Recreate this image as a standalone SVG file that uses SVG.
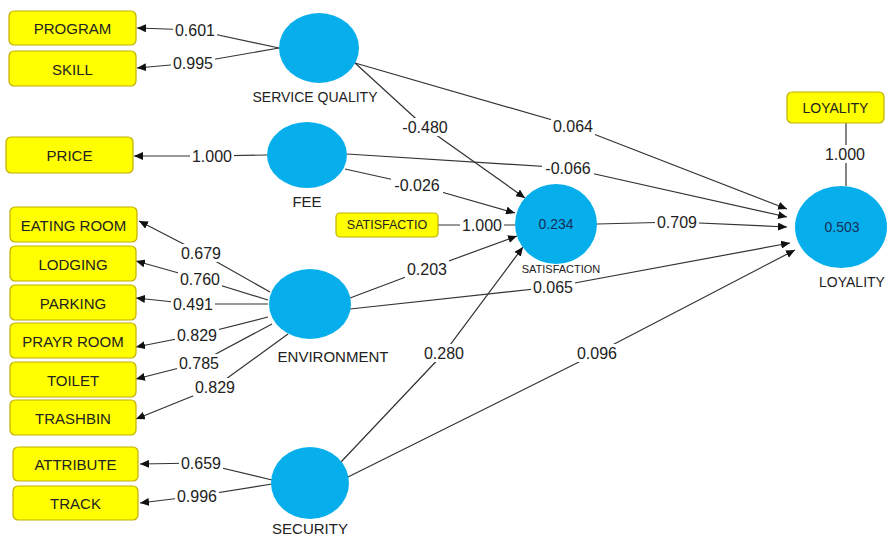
<svg xmlns="http://www.w3.org/2000/svg" width="887" height="537" viewBox="0 0 887 537">
<style>
.bg{fill:#ffffff}
.ind rect{fill:#ffff00;stroke:#c2ae00;stroke-width:1.2}
.ind text{font-family:"Liberation Sans",Arial,sans-serif;font-size:15px;fill:#222;text-anchor:middle;dominant-baseline:central}
.lat ellipse{fill:#06afec}
.lat text{font-family:"Liberation Sans",Arial,sans-serif;font-size:15px;fill:#222;text-anchor:middle;dominant-baseline:central}
.lat text.val{fill:#14305a;font-size:14px}
.conn path{fill:none;stroke:#333;stroke-width:1.2}
.lbl rect{fill:#ffffff}
.lbl text{font-family:"Liberation Sans",Arial,sans-serif;font-size:16px;fill:#222;text-anchor:middle;dominant-baseline:central}
</style>
<defs>
<marker id="arr" markerUnits="userSpaceOnUse" markerWidth="9" markerHeight="8" refX="9" refY="4" orient="auto">
<path d="M0,0 L9,4 L0,8 Z" fill="#111"/>
</marker>
</defs>
<rect class="bg" x="0" y="0" width="887" height="537"/>

<g id="connectors" class="conn">
<path marker-end="url(#arr)" d="M279,48 L195,30 L137,28"/>
<path marker-end="url(#arr)" d="M279,48 L193,63 L137,68"/>
<path marker-end="url(#arr)" d="M267,155 L212,156 L134,156"/>
<path marker-end="url(#arr)" d="M270,292 L201,253 L139,221"/>
<path marker-end="url(#arr)" d="M268,300 L200,279 L136,261"/>
<path marker-end="url(#arr)" d="M268,304 L193,304 L136,298"/>
<path marker-end="url(#arr)" d="M268,317 L197,335 L136,347"/>
<path marker-end="url(#arr)" d="M272,324 L199,363 L136,379"/>
<path marker-end="url(#arr)" d="M288,334 L215,387 L136,419"/>
<path marker-end="url(#arr)" d="M272,480 L201,463 L140,464"/>
<path marker-end="url(#arr)" d="M272,484 L197,496 L140,503"/>
<path d="M438,225 L515,225"/>
<path d="M846,123 L846,186"/>
<path marker-end="url(#arr)" d="M355,63 L425,127 L525,198"/>
<path marker-end="url(#arr)" d="M355,63 L573,126 L787,209"/>
<path marker-end="url(#arr)" d="M347,154 L568,168 L787,217"/>
<path marker-end="url(#arr)" d="M345,169 L417,185 L515,213"/>
<path marker-end="url(#arr)" d="M350,298 L427,269 L517,236"/>
<path marker-end="url(#arr)" d="M350,309 L553,287 L790,243"/>
<path marker-end="url(#arr)" d="M341,462 L444,353 L523,247"/>
<path marker-end="url(#arr)" d="M346,478 L597,353 L795,250"/>
<path marker-end="url(#arr)" d="M597,224 L677,222 L787,227"/>
</g>

<g id="labels" class="lbl">
<g><rect x="173" y="21" width="44" height="18"/><text x="195" y="30">0.601</text></g>
<g><rect x="171" y="54" width="44" height="18"/><text x="193" y="63">0.995</text></g>
<g><rect x="190" y="147" width="44" height="18"/><text x="212" y="156">1.000</text></g>
<g><rect x="179" y="244" width="44" height="18"/><text x="201" y="253">0.679</text></g>
<g><rect x="178" y="270" width="44" height="18"/><text x="200" y="279">0.760</text></g>
<g><rect x="171" y="295" width="44" height="18"/><text x="193" y="304">0.491</text></g>
<g><rect x="175" y="326" width="44" height="18"/><text x="197" y="335">0.829</text></g>
<g><rect x="177" y="354" width="44" height="18"/><text x="199" y="363">0.785</text></g>
<g><rect x="193" y="378" width="44" height="18"/><text x="215" y="387">0.829</text></g>
<g><rect x="179" y="454" width="44" height="18"/><text x="201" y="463">0.659</text></g>
<g><rect x="175" y="487" width="44" height="18"/><text x="197" y="496">0.996</text></g>
<g><rect x="460" y="216" width="44" height="18"/><text x="482" y="225">1.000</text></g>
<g><rect x="823" y="145" width="44" height="18"/><text x="845" y="154">1.000</text></g>
<g><rect x="399" y="118" width="52" height="18"/><text x="425" y="127">-0.480</text></g>
<g><rect x="551" y="117" width="44" height="18"/><text x="573" y="126">0.064</text></g>
<g><rect x="542" y="159" width="52" height="18"/><text x="568" y="168">-0.066</text></g>
<g><rect x="391" y="176" width="52" height="18"/><text x="417" y="185">-0.026</text></g>
<g><rect x="405" y="260" width="44" height="18"/><text x="427" y="269">0.203</text></g>
<g><rect x="531" y="278" width="44" height="18"/><text x="553" y="287">0.065</text></g>
<g><rect x="422" y="344" width="44" height="18"/><text x="444" y="353">0.280</text></g>
<g><rect x="575" y="344" width="44" height="18"/><text x="597" y="353">0.096</text></g>
<g><rect x="655" y="213" width="44" height="18"/><text x="677" y="222">0.709</text></g>
</g>

<g id="program" class="ind"><rect x="9" y="11" width="127" height="34" rx="5"/><text x="72.5" y="28">PROGRAM</text></g>
<g id="skill" class="ind"><rect x="9" y="51" width="127" height="35" rx="5"/><text x="72.5" y="69">SKILL</text></g>
<g id="price" class="ind"><rect x="6" y="137" width="127" height="36" rx="5"/><text x="69.5" y="155">PRICE</text></g>
<g id="eating-room" class="ind"><rect x="10" y="207" width="127" height="35" rx="5"/><text x="73.5" y="225">EATING ROOM</text></g>
<g id="lodging" class="ind"><rect x="10" y="246" width="126" height="35" rx="5"/><text x="73" y="264">LODGING</text></g>
<g id="parking" class="ind"><rect x="10" y="285" width="126" height="35" rx="5"/><text x="73" y="303">PARKING</text></g>
<g id="prayr-room" class="ind"><rect x="10" y="323" width="126" height="35" rx="5"/><text x="73" y="341">PRAYR ROOM</text></g>
<g id="toilet" class="ind"><rect x="10" y="362" width="126" height="35" rx="5"/><text x="73" y="380">TOILET</text></g>
<g id="trashbin" class="ind"><rect x="10" y="400" width="126" height="35" rx="5"/><text x="73" y="418">TRASHBIN</text></g>
<g id="attribute" class="ind"><rect x="13" y="447" width="125" height="34" rx="5"/><text x="75.5" y="464">ATTRIBUTE</text></g>
<g id="track" class="ind"><rect x="13" y="486" width="125" height="34" rx="5"/><text x="75.5" y="503">TRACK</text></g>
<g id="satisfactio" class="ind"><rect x="336" y="213" width="102" height="24" rx="4"/><text x="387" y="225" style="font-size:12.5px">SATISFACTIO</text></g>
<g id="loyality-ind" class="ind"><rect x="787" y="92" width="97" height="31" rx="5"/><text x="835.5" y="108" style="font-size:14px">LOYALITY</text></g>

<g id="service-quality" class="lat"><ellipse cx="319" cy="48" rx="40" ry="35"/><text x="315" y="97" style="font-size:14px">SERVICE QUALITY</text></g>
<g id="fee" class="lat"><ellipse cx="307" cy="155" rx="40" ry="33"/><text x="307" y="201">FEE</text></g>
<g id="environment" class="lat"><ellipse cx="310" cy="304" rx="41" ry="35"/><text x="333" y="356">ENVIRONMENT</text></g>
<g id="security" class="lat"><ellipse cx="310" cy="483" rx="39" ry="36"/><text x="310" y="528">SECURITY</text></g>
<g id="satisfaction" class="lat"><ellipse cx="556" cy="224" rx="41" ry="40"/><text class="val" x="556" y="224">0.234</text><text x="561" y="269" style="font-size:11px">SATISFACTION</text></g>
<g id="loyality" class="lat"><ellipse cx="841" cy="227" rx="46" ry="41"/><text class="val" x="842" y="227">0.503</text><text x="852" y="282" style="font-size:14px">LOYALITY</text></g>
</svg>
